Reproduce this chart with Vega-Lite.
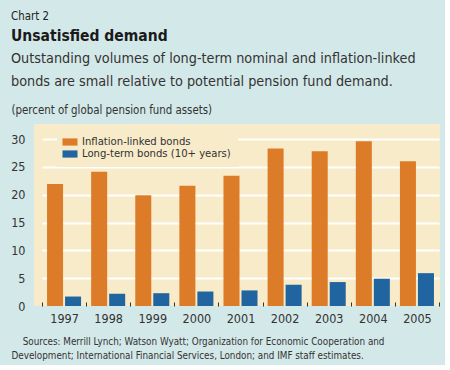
{
  "$schema": "https://vega.github.io/schema/vega-lite/v6.json",
  "background": "#d3e8e8",
  "padding": {"left": 10, "top": 11, "right": 5, "bottom": 5},
  "title": {"text": "Chart 2", "anchor": "start", "frame": "group", "dx": -23, "fontSize": 11.4, "fontWeight": "normal", "color": "#222", "offset": 6},
  "vconcat": [
    {
      "width": 406,
      "height": 182,
      "title": {
        "text": "Unsatisfied demand",
        "subtitle": ["Outstanding volumes of long-term nominal and inflation-linked", "bonds are small relative to potential pension fund demand."],
        "anchor": "start",
        "frame": "group",
        "dx": -23,
        "fontSize": 15.5,
        "fontWeight": "bold",
        "color": "#1a1a1a",
        "subtitleFontSize": 14.3,
        "subtitleColor": "#333",
        "subtitlePadding": 7.5,
        "subtitleLineHeight": 23,
        "offset": 15
      },
      "data": {
        "values": [
          {"year": "1997", "series": "Inflation-linked bonds", "value": 21.9},
          {"year": "1998", "series": "Inflation-linked bonds", "value": 24.1},
          {"year": "1999", "series": "Inflation-linked bonds", "value": 19.9},
          {"year": "2000", "series": "Inflation-linked bonds", "value": 21.6},
          {"year": "2001", "series": "Inflation-linked bonds", "value": 23.4},
          {"year": "2002", "series": "Inflation-linked bonds", "value": 28.3},
          {"year": "2003", "series": "Inflation-linked bonds", "value": 27.8},
          {"year": "2004", "series": "Inflation-linked bonds", "value": 29.6},
          {"year": "2005", "series": "Inflation-linked bonds", "value": 26.0},
          {"year": "1997", "series": "Long-term bonds (10+ years)", "value": 1.7},
          {"year": "1998", "series": "Long-term bonds (10+ years)", "value": 2.2},
          {"year": "1999", "series": "Long-term bonds (10+ years)", "value": 2.3},
          {"year": "2000", "series": "Long-term bonds (10+ years)", "value": 2.6},
          {"year": "2001", "series": "Long-term bonds (10+ years)", "value": 2.8},
          {"year": "2002", "series": "Long-term bonds (10+ years)", "value": 3.8},
          {"year": "2003", "series": "Long-term bonds (10+ years)", "value": 4.3},
          {"year": "2004", "series": "Long-term bonds (10+ years)", "value": 4.9},
          {"year": "2005", "series": "Long-term bonds (10+ years)", "value": 5.9}
        ]
      },
      "mark": {"type": "bar"},
      "encoding": {
        "x": {
          "field": "year",
          "type": "nominal",
          "scale": {"range": [8, 405], "paddingInner": 0, "paddingOuter": 0},
          "axis": {
            "title": ["\u200b\u00a0\u00a0\u00a0\u00a0Sources: Merrill Lynch; Watson Wyatt; Organization for Economic Cooperation and", "Development; International Financial Services, London; and IMF staff estimates."],
            "titleAnchor": "start",
            "titleAlign": "left",
            "titleX": -23,
            "titleY": 38,
            "titleBaseline": "alphabetic",
            "titleFontSize": 9.8,
            "titleFontWeight": "normal",
            "titleLineHeight": 14,
            "titleColor": "#333",
            "labelAngle": 0,
            "labelFontSize": 12.5,
            "labelColor": "#333",
            "labelPadding": 10,
            "domain": false,
            "tickBand": "extent",
            "tickSize": -4,
            "tickColor": "#333",
            "tickWidth": 1
          }
        },
        "xOffset": {
          "field": "series",
          "type": "nominal",
          "scale": {"paddingInner": 0.111, "paddingOuter": 0.28}
        },
        "y": {
          "field": "value",
          "type": "quantitative",
          "scale": {"domain": [0, 32.7], "nice": false},
          "axis": {
            "values": [0, 5, 10, 15, 20, 25, 30],
            "title": "(percent of global pension fund assets)",
            "titleAngle": 0,
            "titleAlign": "left",
            "titleX": -23,
            "titleY": -11,
            "titleBaseline": "alphabetic",
            "titleFontSize": 11.4,
            "titleFontWeight": "normal",
            "titleColor": "#333",
            "domain": false,
            "ticks": false,
            "labelPadding": 9,
            "labelFontSize": 12.5,
            "labelColor": "#333",
            "gridColor": "white",
            "gridWidth": 2,
            "gridOpacity": {"condition": {"test": "datum.value === 0", "value": 0}, "value": 1}
          }
        },
        "color": {
          "field": "series",
          "type": "nominal",
          "scale": {"domain": ["Inflation-linked bonds", "Long-term bonds (10+ years)"], "range": ["#dd7c28", "#2064a0"]},
          "legend": {
            "title": null,
            "orient": "none",
            "legendX": 23,
            "legendY": 5,
            "padding": 7,
            "fillColor": "#f7ebc9",
            "symbolType": "M-1.25,-0.6H1.25V0.6H-1.25Z",
            "symbolSize": 144,
            "symbolStrokeWidth": 0,
            "symbolOpacity": 1,
            "labelFontSize": 11.2,
            "labelLimit": 300,
            "labelColor": "#333",
            "labelOffset": 6,
            "rowPadding": 0
          }
        }
      }
    }
  ],
  "config": {
    "font": "DejaVu Sans Condensed, sans-serif",
    "view": {"fill": "#f7ebc9", "stroke": null},
    "concat": {"spacing": 0}
  }
}
